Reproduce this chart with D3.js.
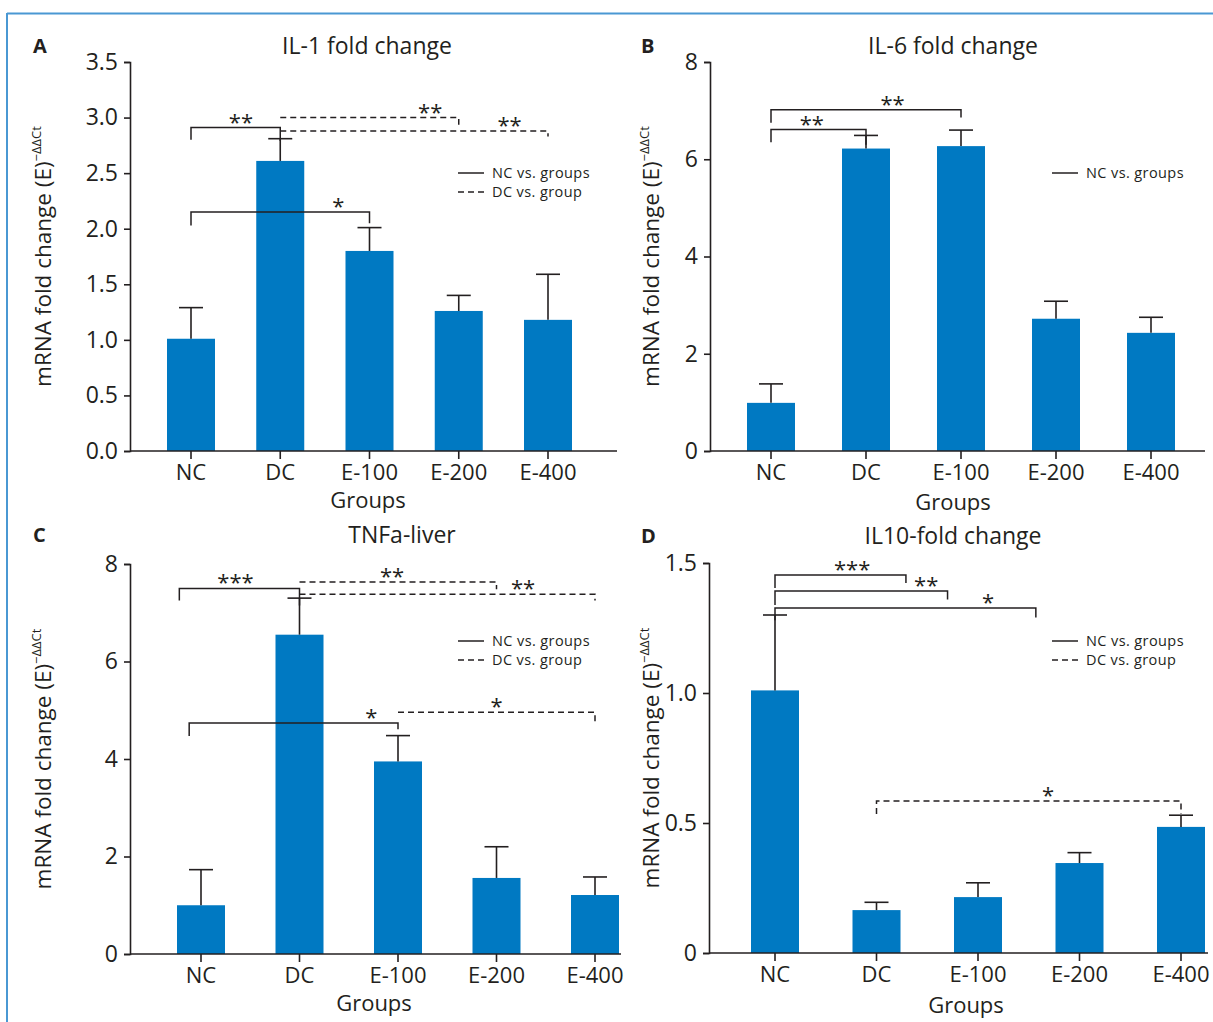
<!DOCTYPE html>
<html>
<head>
<meta charset="utf-8">
<script src="https://cdn.jsdelivr.net/npm/d3@7"></script>
<style>
  body { margin: 0; background: #fff; }
  text { font-family: "Open Sans", "Noto Sans", sans-serif; fill: #231f20; }
</style>
</head>
<body>
<script>
// groups on the x axis (same for every panel)
var groups = ["NC", "DC", "E-100", "E-200", "E-400"];

// A: IL-1
var il1Mean = [1.01, 2.61, 1.80, 1.26, 1.18];
var il1Err  = [0.28, 0.20, 0.21, 0.14, 0.41];
var il1Ticks = [0, 0.5, 1.0, 1.5, 2.0, 2.5, 3.0, 3.5];

// B: IL-6
var il6Mean = [0.99, 6.22, 6.27, 2.72, 2.43];
var il6Err  = [0.39, 0.27, 0.33, 0.36, 0.32];
var il6Ticks = [0, 2, 4, 6, 8];

// C: TNFa
var tnfMean = [1.00, 6.55, 3.95, 1.56, 1.21];
var tnfErr  = [0.73, 0.75, 0.53, 0.64, 0.37];
var tnfTicks = [0, 2, 4, 6, 8];

// D: IL-10
var il10Mean = [1.01, 0.165, 0.215, 0.346, 0.485];
var il10Err  = [0.29, 0.03, 0.055, 0.04, 0.045];
var il10Ticks = [0, 0.5, 1.0, 1.5];

// significance brackets: group index from/to, height, ends, label
var il1Sig = [
  {from: 0, to: 1, y: 2.91, l: 2.80, r: 2.79, dash: false, txt: "**", at: 0.56},
  {from: 1, to: 3, y: 3.00, l: null, r: 2.935, dash: true, txt: "**", at: 2.68},
  {from: 1, to: 4, y: 2.88, l: null, r: 2.83, dash: true, txt: "**", at: 3.57},
  {from: 0, to: 2, y: 2.15, l: 2.03, r: 2.05, dash: false, txt: "*", at: 1.65}
];
var il6Sig = [
  {from: 0, to: 1, y: 6.61, l: 6.35, r: 6.30, dash: false, txt: "**", at: 0.43},
  {from: 0, to: 2, y: 7.02, l: 6.75, r: 6.86, dash: false, txt: "**", at: 1.28}
];
var tnfSig = [
  {from: -0.22, to: 1, y: 7.50, l: 7.25, r: 7.15, dash: false, txt: "***", at: 0.35},
  {from: 1, to: 3, y: 7.63, l: null, r: 7.48, dash: true, txt: "**", at: 1.94},
  {from: 1, to: 4, y: 7.38, l: null, r: 7.25, dash: true, txt: "**", at: 3.27},
  {from: -0.12, to: 2, y: 4.74, l: 4.47, r: 4.61, dash: false, txt: "*", at: 1.73},
  {from: 2, to: 4, y: 4.96, l: null, r: 4.77, dash: true, txt: "*", at: 3.0}
];
var il10Sig = [
  {from: 0, to: 1.29, y: 1.454, l: 1.404, r: 1.423, dash: false, txt: "***", at: 0.76},
  {from: 0, to: 1.70, y: 1.392, l: 1.338, r: 1.36, dash: false, txt: "**", at: 1.49},
  {from: 0, to: 2.57, y: 1.327, l: 1.28, r: 1.29, dash: false, txt: "*", at: 2.1},
  {from: 1, to: 4, y: 0.585, l: 0.535, r: 0.535, dash: true, txt: "*", at: 2.69}
];

var legendBoth = [["NC vs. groups", false], ["DC vs. group", true]];
var legendNC = [["NC vs. groups", false]];

var ink = "#231f20";
var barColor = "#0079c2";

var svg = d3.select("body").append("svg")
  .attr("width", 1213)
  .attr("height", 1022);

// thin blue frame
svg.append("line").attr("x1", 7).attr("x2", 1213).attr("y1", 13.5).attr("y2", 13.5)
  .attr("stroke", "#4a98d3").attr("stroke-width", 2);
svg.append("line").attr("x1", 7).attr("x2", 7).attr("y1", 13).attr("y2", 1022)
  .attr("stroke", "#4a98d3").attr("stroke-width", 2);

function drawPanel(p) {
  var g = svg.append("g");

  var y = d3.scaleLinear().domain([0, p.ymax]).range([p.bottom, p.top]);
  var pad = 1 - 48 / p.step;
  var x = d3.scaleBand().domain(groups)
    .range([p.c0 - p.step / 2, p.c0 + p.step * (groups.length - 0.5)])
    .paddingInner(pad).paddingOuter(pad / 2);
  var cx = function(i) { return x(groups[i]) + x.bandwidth() / 2; };
  var xi = d3.scaleLinear().domain([0, groups.length - 1]).range([cx(0), cx(groups.length - 1)]);

  // bars
  g.selectAll("rect.bar")
    .data(p.mean)
  .enter().append("rect")
    .attr("class", "bar")
    .attr("fill", barColor)
    .attr("x", function(d, i) { return x(groups[i]); })
    .attr("width", x.bandwidth())
    .attr("y", function(d) { return y(d); })
    .attr("height", function(d) { return y(0) - y(d); });

  // error bars
  var eb = g.selectAll("g.err")
    .data(p.mean)
  .enter().append("g")
    .attr("stroke", ink).attr("stroke-width", 1.6);
  eb.append("line")
    .attr("x1", function(d, i) { return cx(i); })
    .attr("x2", function(d, i) { return cx(i); })
    .attr("y1", function(d) { return y(d); })
    .attr("y2", function(d, i) { return y(d + p.err[i]); });
  eb.append("line")
    .attr("x1", function(d, i) { return cx(i) - 12; })
    .attr("x2", function(d, i) { return cx(i) + 12; })
    .attr("y1", function(d, i) { return y(d + p.err[i]); })
    .attr("y2", function(d, i) { return y(d + p.err[i]); });

  // y axis
  var ya = g.append("g")
    .attr("transform", "translate(" + p.left + ",0)")
    .call(d3.axisLeft(y).tickValues(p.ticks).tickFormat(p.fmt).tickSizeOuter(0).tickSize(6).tickPadding(6));
  ya.select(".domain").attr("stroke", ink).attr("stroke-width", 1.6);
  ya.selectAll(".tick line").attr("stroke", ink).attr("stroke-width", 1.6);
  ya.selectAll(".tick text").style("font-family", "'Open Sans'").style("font-size", "23px").attr("fill", ink);

  // x axis
  var xa = g.append("g")
    .attr("transform", "translate(0," + p.bottom + ")")
    .call(d3.axisBottom(x).tickSize(8).tickPadding(5));
  xa.select(".domain").remove();
  xa.selectAll(".tick line").attr("stroke", ink).attr("stroke-width", 1.6);
  xa.selectAll(".tick text").style("font-family", "'Open Sans'").style("font-size", "22px").attr("fill", ink);
  g.append("line")
    .attr("x1", p.left).attr("x2", p.right)
    .attr("y1", p.bottom).attr("y2", p.bottom)
    .attr("stroke", ink).attr("stroke-width", 1.6);

  // significance brackets
  p.sig.forEach(function(s) {
    var x1 = xi(s.from), x2 = xi(s.to);
    var d = "";
    if (s.l !== null) d += "M" + x1 + "," + y(s.l) + "V" + y(s.y);
    else d += "M" + x1 + "," + y(s.y);
    d += "H" + x2 + "V" + y(s.r);
    g.append("path")
      .attr("d", d)
      .attr("fill", "none")
      .attr("stroke", ink)
      .attr("stroke-width", 1.5)
      .attr("stroke-dasharray", s.dash ? "6,4" : null);
    g.append("text")
      .attr("x", xi(s.at))
      .attr("y", y(s.y) + 2)
      .attr("text-anchor", "middle")
      .style("font-size", "22px")
      .text(s.txt);
  });

  // legend
  p.legend.forEach(function(it, i) {
    var ly = p.legendY + i * 19;
    g.append("line")
      .attr("x1", p.legendX).attr("x2", p.legendX + 26)
      .attr("y1", ly).attr("y2", ly)
      .attr("stroke", ink).attr("stroke-width", 1.5)
      .attr("stroke-dasharray", it[1] ? "6,4" : null);
    g.append("text")
      .attr("x", p.legendX + 34)
      .attr("y", ly + 5)
      .style("font-size", "14.5px")
      .style("letter-spacing", "0.4px")
      .text(it[0]);
  });

  // titles and labels
  g.append("text")
    .attr("x", p.titleX).attr("y", p.titleY)
    .attr("text-anchor", "middle")
    .style("font-size", "23px")
    .text(p.title);
  g.append("text")
    .attr("x", p.letterX).attr("y", p.titleY - 1)
    .style("font-size", "20px").style("font-weight", "bold")
    .text(p.letter);
  g.append("text")
    .attr("x", p.groupsX).attr("y", p.groupsY)
    .attr("text-anchor", "middle")
    .style("font-size", "22px")
    .text("Groups");

  var yl = g.append("text")
    .attr("transform", "translate(" + p.ylabX + "," + (p.top + p.bottom) / 2 + ") rotate(-90)")
    .attr("text-anchor", "middle")
    .style("font-size", "22.5px");
  yl.append("tspan").text("mRNA fold change (E)");
  yl.append("tspan").attr("dy", -10).style("font-size", "13px").text("\u2212\u0394\u0394Ct");
}

drawPanel({
  letter: "A", title: "IL-1 fold change", mean: il1Mean, err: il1Err, ticks: il1Ticks,
  fmt: d3.format(".1f"), ymax: 3.5, sig: il1Sig, legend: legendBoth,
  left: 130, right: 617, top: 62, bottom: 451, c0: 191, step: 89.25,
  legendX: 458, legendY: 173, titleX: 367, titleY: 54, letterX: 33, groupsX: 368, groupsY: 508, ylabX: 51
});
drawPanel({
  letter: "B", title: "IL-6 fold change", mean: il6Mean, err: il6Err, ticks: il6Ticks,
  fmt: d3.format("d"), ymax: 8, sig: il6Sig, legend: legendNC,
  left: 710, right: 1205, top: 62, bottom: 451, c0: 771, step: 95,
  legendX: 1052, legendY: 173, titleX: 953, titleY: 54, letterX: 641, groupsX: 953, groupsY: 510, ylabX: 659
});
drawPanel({
  letter: "C", title: "TNFa-liver", mean: tnfMean, err: tnfErr, ticks: tnfTicks,
  fmt: d3.format("d"), ymax: 8, sig: tnfSig, legend: legendBoth,
  left: 130, right: 621, top: 564, bottom: 954, c0: 201, step: 98.5,
  legendX: 458, legendY: 641, titleX: 402, titleY: 543, letterX: 33, groupsX: 374, groupsY: 1011, ylabX: 51
});
drawPanel({
  letter: "D", title: "IL10-fold change", mean: il10Mean, err: il10Err, ticks: il10Ticks,
  fmt: function(d) { return d === 0 ? "0" : d3.format(".1f")(d); }, ymax: 1.5, sig: il10Sig, legend: legendBoth,
  left: 709, right: 1208, top: 563, bottom: 953, c0: 775, step: 101.5,
  legendX: 1052, legendY: 641, titleX: 953, titleY: 544, letterX: 641, groupsX: 966, groupsY: 1013, ylabX: 659
});
</script>
</body>
</html>
